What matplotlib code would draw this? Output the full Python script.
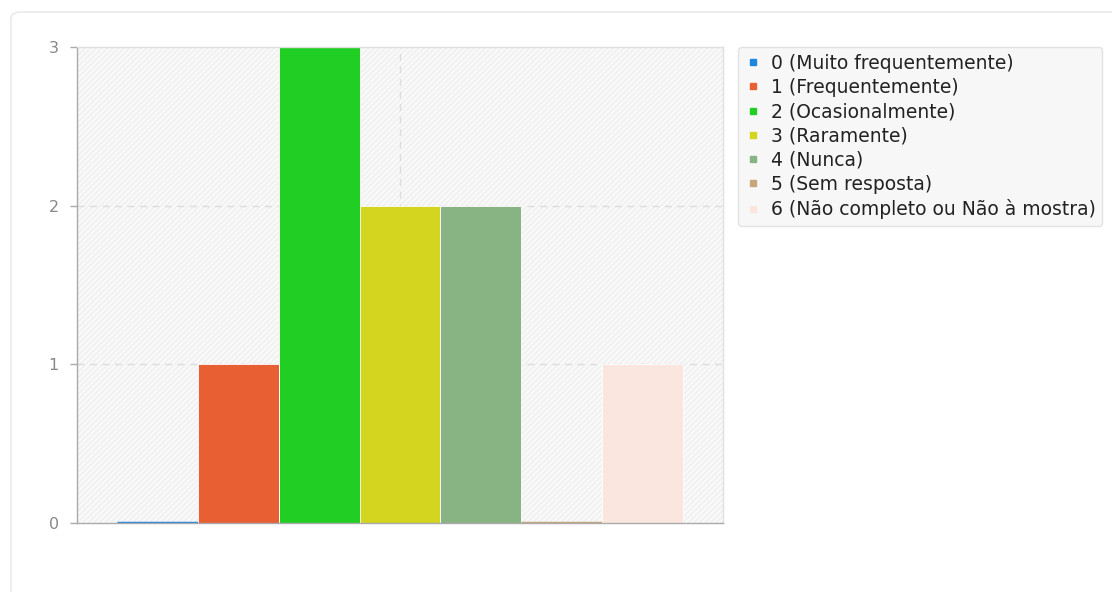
import matplotlib.pyplot as plt
from matplotlib.patches import FancyBboxPatch, Rectangle
from matplotlib.lines import Line2D

categories = ["0 (Muito frequentemente)", "1 (Frequentemente)", "2 (Ocasionalmente)",
              "3 (Raramente)", "4 (Nunca)", "5 (Sem resposta)",
              "6 (Não completo ou Não à mostra)"]
counts = [0, 1, 3, 2, 2, 0, 1]
colors = ["#1f86df", "#e85f34", "#21cf24", "#d3d51e", "#88b383", "#c9a67a", "#fae6de"]
y_ticks = [0, 1, 2, 3]

fig = plt.figure(figsize=(11.12, 5.92), dpi=100)

# carte de fond arrondie
card = FancyBboxPatch((11 / 1112, -0.05), 1.2, 1.0 - 12 / 592 + 0.05,
                      boxstyle="round,pad=0,rounding_size=0.01",
                      transform=fig.transFigure, facecolor="white",
                      edgecolor="#e6e6e6", linewidth=1.0, zorder=-10)
fig.patches.append(card)

ax = fig.add_axes([77 / 1112, 1 - 523 / 592, (723 - 77) / 1112, (523 - 47) / 592])
ax.set_zorder(1)
ax.set_facecolor("#f9f9f9")
ax.add_patch(Rectangle((0, 0), 1, 1, transform=ax.transAxes, facecolor="none",
                       edgecolor="#efefef", hatch="//////", linewidth=0, zorder=0))

for i, (v, c) in enumerate(zip(counts, colors)):
    if v == 0:
        ax.bar(i, v, width=1.0, color=c, edgecolor=c, linewidth=2.5, zorder=3)
    else:
        ax.bar(i, v, width=1.0, color=c, edgecolor="white", linewidth=0.6, zorder=3)

ax.set_xlim(-1, 7)
ax.set_ylim(0, 3)
ax.set_yticks(y_ticks)
ax.set_xticks([])
ax.tick_params(axis="y", colors="#aaaaaa", labelcolor="#888888", labelsize=11.5,
               length=5, width=1, pad=8)

for yv in [1, 2]:
    ax.axhline(yv, color="#dddddd", linestyle=(0, (5, 4)), linewidth=1, zorder=1)
ax.axvline(3, color="#dddddd", linestyle=(0, (5, 4)), linewidth=1, zorder=1)

ax.spines["left"].set_color("#aaaaaa")
ax.spines["bottom"].set_color("#aaaaaa")
ax.spines["top"].set_color("#e0e0e0")
ax.spines["right"].set_color("#e0e0e0")
for s in ax.spines.values():
    s.set_linewidth(1)
    s.set_zorder(4)

handles = [Line2D([], [], marker="s", linestyle="none", markersize=5,
                  markerfacecolor=c, markeredgecolor=c) for c in colors]
leg = fig.legend(handles, categories, loc="upper left",
                 bbox_to_anchor=(738 / 1112, 1 - 47 / 592),
                 frameon=True, fontsize=13.5, handlelength=0.9, handletextpad=0.5,
                 labelspacing=0.28, borderpad=0.35, borderaxespad=0,
                 fancybox=True, shadow=False)
leg.get_frame().set_facecolor("#f7f7f7")
leg.get_frame().set_edgecolor("#e2e2e2")
leg.get_frame().set_alpha(1)
for t in leg.get_texts():
    t.set_color("#222222")

fig.savefig("out.png", dpi=100)
